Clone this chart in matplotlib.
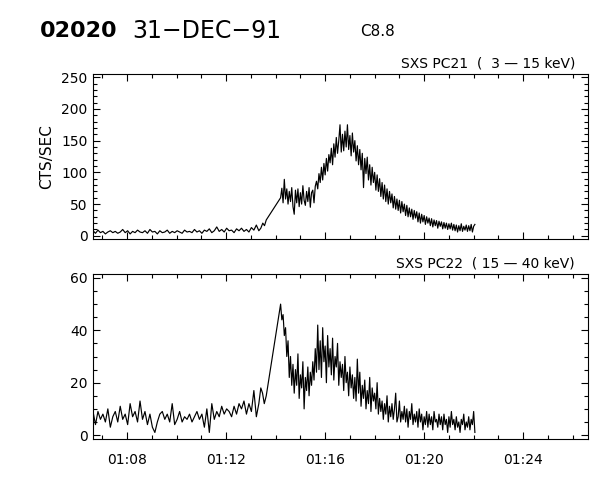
import numpy as np
import matplotlib
matplotlib.use("Agg")
import matplotlib.pyplot as plt
from matplotlib.ticker import MultipleLocator, FuncFormatter

# time axis in minutes after 01:00 UT
X_RANGE = (6.62, 26.62)

# quiet pre-flare part, one sample every 0.1 min from 01:06:37
PRE_START, PRE_STEP = 6.62, 0.1
# dense flare part, one sample every 0.05 min from 01:14:12
FLARE_START, FLARE_STEP = 14.20, 0.05

# --- SXS PC21 (3 - 15 keV) ---
pc21_pre = [
    8, 4, 9, 5, 7, 3, 6, 8, 5, 7,
    4, 6, 10, 5, 8, 3, 7, 5, 9, 6,
    5, 8, 4, 10, 6, 7, 3, 8, 5, 6,
    9, 4, 7, 5, 8, 6, 4, 9, 6, 7,
    5, 10, 6, 8, 4, 9, 7, 11, 5, 8,
    14, 7, 10, 6, 12, 8, 9, 5, 11, 8,
    12, 7, 10, 6, 13, 9, 17, 8,
]
pc21_gap_t = [13.40, 13.48, 13.55, 13.62]
pc21_gap = [12, 20, 16, 25]
pc21_flare = [
    60, 75, 52, 89, 58, 74, 50, 70, 54, 76,
    46, 34, 72, 52, 74, 46, 68, 50, 79, 56,
    48, 70, 54, 76, 45, 68, 72, 52, 78, 86,
    74, 98, 84, 108, 88, 114, 96, 122, 102, 128,
    115, 138, 112, 145, 124, 155, 130, 150, 175, 132,
    160, 134, 165, 140, 175, 136, 158, 126, 162, 132,
    150, 118, 142, 112, 136, 104, 130, 76, 122, 98,
    124, 88, 112, 80, 108, 84, 100, 72, 96, 70,
    90, 62, 84, 58, 80, 54, 74, 50, 70, 52,
    66, 44, 62, 42, 58, 40, 56, 36, 54, 38,
    50, 32, 48, 30, 44, 30, 42, 26, 40, 28,
    38, 22, 36, 20, 34, 22, 32, 18, 30, 20,
    28, 16, 27, 14, 25, 16, 24, 12, 23, 15,
    22, 11, 21, 12, 20, 10, 19, 11, 20, 9,
    18, 8, 17, 6, 16, 8, 19, 7, 15, 9,
    17, 7, 16, 8, 18, 6, 15, 18,
]

# --- SXS PC22 (15 - 40 keV) ---
pc22_pre = [
    9, 4, 9, 6, 8, 5, 10, 3, 7, 9,
    5, 11, 6, 8, 4, 12, 7, 9, 5, 13,
    6, 9, 4, 8, 3, 1, 5, 8, 9, 6,
    8, 5, 12, 4, 6, 9, 5, 7, 6, 8,
    5, 7, 9, 6, 8, 3, 10, 1, 12, 6,
    9, 7, 11, 8, 10, 9, 7, 11, 8, 12,
    10, 13, 8, 12, 9, 17, 7, 12,
]
pc22_gap_t = [13.40, 13.47, 13.54, 13.62]
pc22_gap = [18, 16, 12, 15]
pc22_flare = [
    50, 44, 46, 38, 41, 30, 36, 22, 30, 19,
    27, 16, 25, 19, 31, 14, 23, 18, 28, 10,
    22, 17, 26, 15, 24, 19, 28, 21, 33, 24,
    42, 25, 36, 22, 41, 28, 34, 20, 38, 26,
    33, 23, 37, 21, 30, 26, 35, 19, 28, 22,
    27, 17, 30, 20, 24, 15, 26, 18, 23, 14,
    22, 13, 29, 16, 24, 11, 19, 14, 21, 10,
    17, 12, 22, 9, 18, 13, 16, 10, 20, 8,
    14, 9, 13, 6, 12, 8, 15, 5, 11, 7,
    12, 6, 10, 16, 5, 7, 13, 5, 9, 6,
    11, 5, 10, 3, 9, 6, 12, 4, 8, 5,
    9, 3, 10, 5, 8, 2, 7, 4, 9, 3,
    8, 4, 7, 2, 9, 5, 6, 3, 8, 4,
    7, 2, 8, 4, 6, 1, 7, 3, 9, 4,
    6, 2, 7, 3, 5, 1, 6, 4, 8, 2,
    5, 3, 7, 2, 6, 4, 9, 1,
]


def series(pre, gap_t, gap, flare):
    t_pre = PRE_START + PRE_STEP * np.arange(len(pre))
    t_flare = FLARE_START + FLARE_STEP * np.arange(len(flare))
    t = np.concatenate([t_pre, gap_t, t_flare])
    y = np.concatenate([pre, gap, flare]).astype(float)
    return t, y


def style_axis(ax, ylim, y_major, y_minor):
    ax.set_xlim(*X_RANGE)
    ax.set_ylim(*ylim)
    ax.xaxis.set_major_locator(MultipleLocator(4))
    ax.xaxis.set_minor_locator(MultipleLocator(1))
    ax.yaxis.set_major_locator(MultipleLocator(y_major))
    ax.yaxis.set_minor_locator(MultipleLocator(y_minor))
    ax.tick_params(which="both", direction="in", top=True, right=True,
                   width=0.8, labelsize=10, colors="black")
    ax.tick_params(which="major", length=5)
    ax.tick_params(which="minor", length=2.8)
    ax.tick_params(axis="y", pad=4)
    ax.tick_params(axis="x", pad=10)
    for sp in ax.spines.values():
        sp.set_linewidth(0.8)


def plot(out_path):
    fig = plt.figure(figsize=(6, 4.8), dpi=100)
    ax1 = fig.add_axes([93 / 600, 1 - 239 / 480, 495 / 600, 165 / 480])
    ax2 = fig.add_axes([93 / 600, 1 - 439 / 480, 495 / 600, 165 / 480])

    t1, y1 = series(pc21_pre, pc21_gap_t, pc21_gap, pc21_flare)
    t2, y2 = series(pc22_pre, pc22_gap_t, pc22_gap, pc22_flare)

    ax1.plot(t1, y1, color="black", lw=0.85)
    ax2.plot(t2, y2, color="black", lw=0.85)

    style_axis(ax1, (-5, 255), 50, 10)
    style_axis(ax2, (-1.5, 61.5), 20, 5)
    ax1.set_xticklabels([])
    ax2.xaxis.set_major_formatter(FuncFormatter(lambda v, p: f"01:{int(round(v)):02d}"))

    ax1.text(1.0 - 13 / 495, 1.02, "SXS PC21  (  3 \u2014 15 keV)", transform=ax1.transAxes,
             ha="right", va="bottom", fontsize=10)
    ax2.text(1.0 - 13 / 495, 1.02, "SXS PC22  ( 15 \u2014 40 keV)", transform=ax2.transAxes,
             ha="right", va="bottom", fontsize=10)

    fig.text(47 / 600, 1 - 157 / 480, "CTS/SEC", rotation=90, ha="center", va="center", fontsize=11)
    fig.text(40 / 600, 1 - 31 / 480, "02020", fontsize=16, fontweight="bold", ha="left", va="center")
    fig.text(132 / 600, 1 - 31 / 480, "31\u2212DEC\u221291", fontsize=17, ha="left", va="center")
    fig.text(360 / 600, 1 - 31 / 480, "C8.8", fontsize=11, ha="left", va="center")

    fig.savefig(out_path, dpi=100)


if __name__ == "__main__":
    plot("out.png")
